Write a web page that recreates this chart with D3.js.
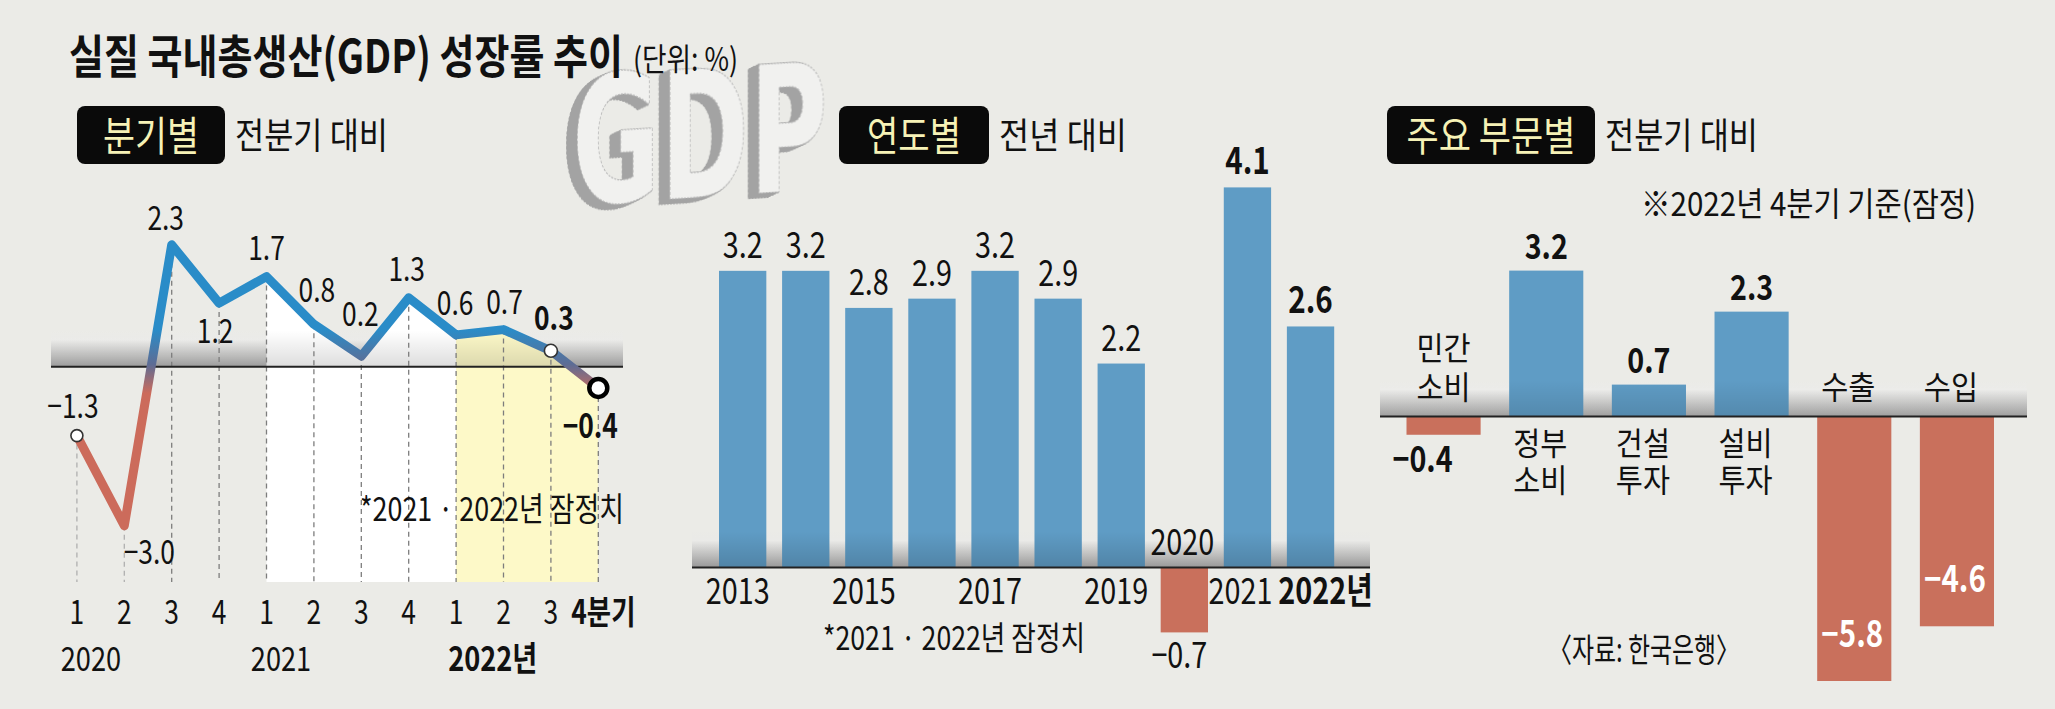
<!DOCTYPE html>
<html><head><meta charset="utf-8">
<script src="https://cdn.jsdelivr.net/npm/d3@7"></script>
<style>html,body{margin:0;padding:0;background:#ebebe7;}svg{display:block;}</style>
</head><body>
<script>
// ---------- DATA ----------
const quarterLabels = ["1","2","3","4","1","2","3","4","1","2","3","4분기"];
const quarterValues = [-1.3,-3.0,2.3,1.2,1.7,0.8,0.2,1.3,0.6,0.7,0.3,-0.4];
const quarterYears = ["2020","2021","2022년"];
const annualYears = ["2013","2014","2015","2016","2017","2018","2019","2020","2021","2022년"];
const annualValues = [3.2,3.2,2.8,2.9,3.2,2.9,2.2,-0.7,4.1,2.6];
const annualTickShown = [true,false,true,false,true,false,true,true,true,true];
const sectors = ["민간 소비","정부 소비","건설 투자","설비 투자","수출","수입"];
const sectorValues = [-0.4,3.2,0.7,2.3,-5.8,-4.6];

// ---------- LAYOUT ----------
const W = 2055, H = 709;
const FONT = "'Noto Sans CJK KR','Noto Sans',sans-serif";
const BG = "#ebebe7";
const BLUE_BAR = "#5f9cc5", RED_BAR = "#c9705c";
const BLUE_LINE = "#2a8cc8", RED_LINE = "#cc6b5b";
const fmt = d3.format(".1f");

const svg = d3.select("body").append("svg").attr("width", W).attr("height", H);
svg.append("rect").attr("width", W).attr("height", H).attr("fill", BG);
const defs = svg.append("defs");

function txt(g, x, y, s, o = {}) {
  const t = g.append("text")
    .attr("transform", `translate(${x},${y}) scale(${o.sx ?? 1},1)`)
    .attr("text-anchor", o.anchor || "middle")
    .attr("font-family", FONT)
    .attr("font-size", o.size || 32)
    .attr("font-weight", o.weight || 400)
    .attr("fill", o.fill || "#111");
  const lines = Array.isArray(s) ? s : [s];
  if (lines.length === 1) t.text(lines[0]);
  else lines.forEach((l, k) => t.append("tspan").attr("x", 0).attr("dy", k === 0 ? 0 : o.lh).text(l));
  if (o.len) t.attr("textLength", o.len).attr("lengthAdjust", "spacingAndGlyphs");
  return t;
}

// band gradients
const lgb = defs.append("linearGradient").attr("id", "band").attr("x1", 0).attr("y1", 0).attr("x2", 0).attr("y2", 1);
lgb.append("stop").attr("offset", "0%").attr("stop-color", "#f2f2f0").attr("stop-opacity", 0);
lgb.append("stop").attr("offset", "25%").attr("stop-color", "#f4f4f2").attr("stop-opacity", 0.9);
lgb.append("stop").attr("offset", "100%").attr("stop-color", "#b4b4b4").attr("stop-opacity", 1);
const ov = defs.append("linearGradient").attr("id", "shade").attr("x1", 0).attr("y1", 0).attr("x2", 0).attr("y2", 1);
ov.append("stop").attr("offset", "0%").attr("stop-color", "#000").attr("stop-opacity", 0);
ov.append("stop").attr("offset", "100%").attr("stop-color", "#000").attr("stop-opacity", 0.22);

// GDP 3D logo (decorative), drawn first so the title stays on top
const f = defs.append("filter").attr("id", "extrude").attr("x", "-20%").attr("y", "-20%").attr("width", "140%").attr("height", "140%");
const names = [];
for (let k = 1; k <= 18; k++) {
  f.append("feOffset").attr("in", "SourceAlpha").attr("dx", -k).attr("dy", k * 0.25).attr("result", "o" + k);
  names.push("o" + k);
}
const mg = f.append("feMerge").attr("result", "ext");
names.forEach(n => mg.append("feMergeNode").attr("in", n));
f.append("feFlood").attr("flood-color", "#a3a3a3").attr("result", "fl");
f.append("feComposite").attr("in", "fl").attr("in2", "ext").attr("operator", "in").attr("result", "side");
const mg2 = f.append("feMerge");
mg2.append("feMergeNode").attr("in", "side");
mg2.append("feMergeNode").attr("in", "SourceGraphic");
svg.append("text")
  .attr("transform", "translate(572,205) skewY(-3.5) scale(0.61,1)")
  .attr("font-family", "'DejaVu Sans',sans-serif").attr("font-weight", 700).attr("font-size", 176)
  .attr("fill", "#f1f1ef").attr("stroke", "#b5b5b5").attr("stroke-width", 1.2).attr("stroke-dasharray", "3,2")
  .attr("filter", "url(#extrude)").text("GDP");

// ---------- TITLE ----------
txt(svg, 69, 73, "실질 국내총생산(GDP) 성장률 추이", {anchor: "start", size: 46, weight: 700, len: 554});
txt(svg, 633, 71, "(단위: %)", {anchor: "start", size: 32, len: 105});

// ---------- HEADERS ----------
function header(x, w, label, lblLen, sub, subLen) {
  svg.append("rect").attr("x", x).attr("y", 106).attr("width", w).attr("height", 58).attr("rx", 8).attr("fill", "#0a0a0a");
  txt(svg, x + w / 2, 151, label, {size: 41, fill: "#f6f2b6", len: lblLen});
  txt(svg, x + w + 10, 149, sub, {anchor: "start", size: 36, len: subLen});
}
header(77, 148, "분기별", 96, "전분기 대비", 153);
header(839, 150, "연도별", 94, "전년 대비", 128);
header(1387, 208, "주요 부문별", 169, "전분기 대비", 153);
txt(svg, 1641, 216, "※2022년 4분기 기준(잠정)", {anchor: "start", size: 33, len: 335});

// ---------- PANEL 1 : quarterly line ----------
const g1 = svg.append("g");
const xq = d3.scalePoint().domain(d3.range(quarterValues.length)).range([76.9, 598.3]);
const yq = d3.scaleLinear().domain([-3, 2.3]).range([525.7, 244.8]);
const bottom1 = 582;
const pts = quarterValues.map((v, i) => [xq(i), yq(v)]);

g1.append("rect").attr("x", 51).attr("y", yq(0) - 36).attr("width", 572).attr("height", 36).attr("fill", "url(#band)");

const area = d3.area().x(d => d[0]).y0(bottom1).y1(d => d[1]);
const cp1 = defs.append("clipPath").attr("id", "c2021");
cp1.append("rect").attr("x", xq(4)).attr("y", 0).attr("width", xq(8) - xq(4)).attr("height", H);
const cp2 = defs.append("clipPath").attr("id", "c2022");
cp2.append("rect").attr("x", xq(8)).attr("y", 0).attr("width", xq(11) - xq(8)).attr("height", H);
g1.append("path").attr("d", area(pts)).attr("fill", "#ffffff").attr("clip-path", "url(#c2021)");
g1.append("path").attr("d", area(pts)).attr("fill", "#fdf9c8").attr("clip-path", "url(#c2022)");
g1.append("rect").attr("x", 51).attr("y", yq(0) - 36).attr("width", 572).attr("height", 36).attr("fill", "url(#shade)").attr("opacity", 0.6);

g1.selectAll("line.guide").data(pts).join("line").attr("class", "guide")
  .attr("x1", d => d[0]).attr("x2", d => d[0]).attr("y1", d => d[1]).attr("y2", bottom1)
  .attr("stroke", (d, i) => i < 2 ? "#b0b0b0" : "#7d7d7d").attr("stroke-width", 1.3).attr("stroke-dasharray", "5,4");

g1.append("line").attr("x1", 51).attr("x2", 623).attr("y1", yq(0)).attr("y2", yq(0)).attr("stroke", "#222").attr("stroke-width", 2);

const lgL = defs.append("linearGradient").attr("id", "lineGrad").attr("gradientUnits", "userSpaceOnUse")
  .attr("x1", 0).attr("x2", 0).attr("y1", yq(0.7)).attr("y2", yq(-0.5));
lgL.append("stop").attr("offset", "0%").attr("stop-color", BLUE_LINE);
lgL.append("stop").attr("offset", "55%").attr("stop-color", "#5e6c94");
lgL.append("stop").attr("offset", "100%").attr("stop-color", RED_LINE);
g1.append("path").attr("d", d3.line()(pts)).attr("fill", "none").attr("stroke", "url(#lineGrad)")
  .attr("stroke-width", 9).attr("stroke-linejoin", "round").attr("stroke-linecap", "round");

g1.append("circle").attr("cx", pts[0][0]).attr("cy", pts[0][1]).attr("r", 6).attr("fill", "#fff").attr("stroke", "#333").attr("stroke-width", 1.6);
g1.append("circle").attr("cx", pts[10][0]).attr("cy", pts[10][1]).attr("r", 6.5).attr("fill", "#fff").attr("stroke", "#333").attr("stroke-width", 1.6);
g1.append("circle").attr("cx", pts[11][0]).attr("cy", pts[11][1]).attr("r", 9).attr("fill", "#fff").attr("stroke", "#000").attr("stroke-width", 4.5);

const qLabelOff = [[-4,-18],[25,38],[-6,-15],[-4,40],[0,-17],[3,-22],[-1,-30],[-2,-17],[-1,-20],[1,-16],[3,-21],[-8,50]];
quarterValues.forEach((v, i) => {
  const bold = i >= 10;
  txt(g1, pts[i][0] + qLabelOff[i][0], pts[i][1] + qLabelOff[i][1], fmt(v),
      {size: 33, weight: bold ? 700 : 400, sx: 0.8});
});

quarterLabels.forEach((q, i) => {
  if (i === quarterLabels.length - 1) txt(g1, xq(i) - 27, 624, q, {anchor: "start", size: 33, weight: 700, sx: 0.8});
  else txt(g1, xq(i), 624, q, {size: 33, sx: 0.8});
});
const yearPos = [[0, 14], [4, 14.5], [8, 36.6]];
quarterYears.forEach((y, i) => {
  txt(g1, xq(yearPos[i][0]) + yearPos[i][1], 671, y, {size: 34, weight: i === 2 ? 700 : 400, sx: 0.8});
});
txt(g1, 360, 521, "*2021 · 2022년 잠정치", {anchor: "start", size: 33, len: 264});

// ---------- PANEL 2 : annual bars ----------
const g2 = svg.append("g");
const xa = d3.scaleBand().domain(annualYears).range([719, 1334.2]).paddingInner(0.25).paddingOuter(0);
const ya = d3.scaleLinear().domain([-0.7, 4.1]).range([632.4, 187.4]);
g2.append("rect").attr("x", 692).attr("y", ya(0) - 36).attr("width", 678).attr("height", 36).attr("fill", "url(#band)");
g2.selectAll("rect.bar").data(annualValues).join("rect").attr("class", "bar")
  .attr("x", (d, i) => xa(annualYears[i])).attr("width", xa.bandwidth())
  .attr("y", d => ya(Math.max(0, d))).attr("height", d => Math.abs(ya(d) - ya(0)))
  .attr("fill", d => d < 0 ? RED_BAR : BLUE_BAR);
g2.append("rect").attr("x", 692).attr("y", ya(0) - 36).attr("width", 678).attr("height", 36).attr("fill", "url(#shade)").attr("opacity", 0.7);
g2.append("line").attr("x1", 692).attr("x2", 1370).attr("y1", ya(0)).attr("y2", ya(0)).attr("stroke", "#222").attr("stroke-width", 2);
annualValues.forEach((v, i) => {
  const cx = xa(annualYears[i]) + xa.bandwidth() / 2;
  const bold = i >= 8;
  if (v >= 0) txt(g2, cx, ya(v) - 13, fmt(v), {size: bold ? 37 : 36, weight: bold ? 700 : 400, sx: 0.8});
  else txt(g2, cx - 5, ya(v) + 36, fmt(v), {size: 36, sx: 0.8});
});
annualYears.forEach((y, i) => {
  if (!annualTickShown[i]) return;
  const cx = xa(y) + xa.bandwidth() / 2;
  const v = annualValues[i];
  if (v < 0) txt(g2, cx - 2, ya(0) - 13, y, {size: 36, sx: 0.8});
  else if (i === annualYears.length - 1) txt(g2, cx + 15, 604, y, {size: 36, weight: 700, sx: 0.8});
  else txt(g2, cx - (i === 8 ? 7 : 5), 604, y, {size: 36, sx: 0.8});
});
txt(g2, 823, 650, "*2021 · 2022년 잠정치", {anchor: "start", size: 33, len: 262});

// ---------- PANEL 3 : sector bars ----------
const g3 = svg.append("g");
const xs = d3.scaleBand().domain(sectors).range([1406.5, 1994]).paddingInner(0.278).paddingOuter(0);
const ys = d3.scaleLinear().domain([-5.8, 3.2]).range([681, 270.6]);
g3.append("rect").attr("x", 1380).attr("y", ys(0) - 36).attr("width", 647).attr("height", 36).attr("fill", "url(#band)");
g3.selectAll("rect.bar").data(sectorValues).join("rect").attr("class", "bar")
  .attr("x", (d, i) => xs(sectors[i])).attr("width", xs.bandwidth())
  .attr("y", d => ys(Math.max(0, d))).attr("height", d => Math.abs(ys(d) - ys(0)))
  .attr("fill", d => d < 0 ? RED_BAR : BLUE_BAR);
g3.append("rect").attr("x", 1380).attr("y", ys(0) - 36).attr("width", 647).attr("height", 36).attr("fill", "url(#shade)").attr("opacity", 0.55);
g3.append("line").attr("x1", 1380).attr("x2", 2027).attr("y1", ys(0)).attr("y2", ys(0)).attr("stroke", "#222").attr("stroke-width", 2);
sectorValues.forEach((v, i) => {
  const cx = xs(sectors[i]) + xs.bandwidth() / 2;
  const words = sectors[i].split(" ");
  if (v >= 0) {
    txt(g3, cx, ys(v) - 12, fmt(v), {size: 35, weight: 700, sx: 0.82});
    txt(g3, cx - 6, 455, words, {size: 32, sx: 0.92, lh: 37});
  } else if (v > -1) {
    txt(g3, cx - 21, ys(v) + 37, fmt(v), {size: 35, weight: 700, sx: 0.82});
    txt(g3, cx, 399 - (words.length - 1) * 39, words, {size: 32, sx: 0.92, lh: 39});
  } else {
    txt(g3, cx - 2, ys(v) - 34, fmt(v), {size: 36, weight: 700, sx: 0.82, fill: "#fff"});
    txt(g3, cx - 6, 399, words.join(" "), {size: 32, sx: 0.92});
  }
});
txt(svg, 1548, 662, "〈자료: 한국은행〉", {anchor: "start", size: 33, len: 192});
</script>
</body></html>
